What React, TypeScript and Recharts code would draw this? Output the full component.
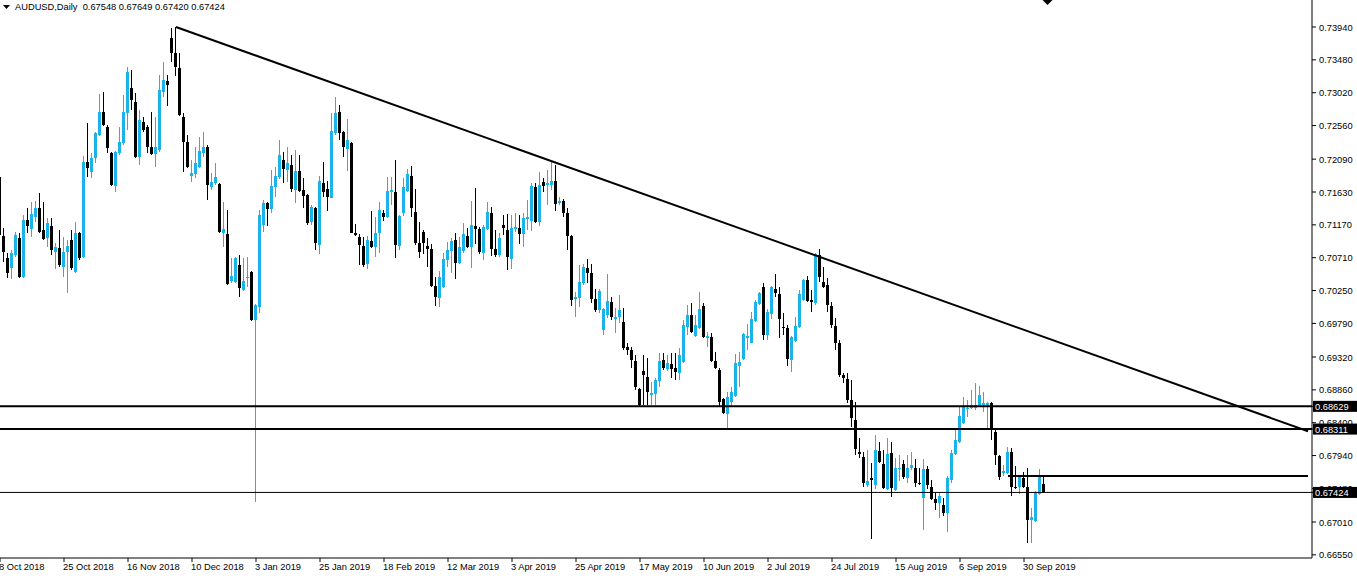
import React from "react";
import { Bar, ComposedChart, ReferenceDot, ReferenceLine, XAxis, YAxis } from "recharts";

// daily bars, first one is the partly hidden bar at the left edge
const opens = [
  0.7184, 0.7101, 0.7071, 0.7057, 0.7075, 0.7099, 0.7044, 0.7124, 0.7111, 0.7128,
  0.7141, 0.7110, 0.7099, 0.7115, 0.7079, 0.7085, 0.7058, 0.7079, 0.7096, 0.7051,
  0.7106, 0.7072, 0.7205, 0.7191, 0.7211, 0.7243, 0.7275, 0.7254, 0.7218, 0.7171,
  0.7218, 0.7232, 0.7274, 0.7309, 0.7289, 0.7212, 0.7261, 0.7254, 0.7226, 0.7216,
  0.7222, 0.7303, 0.7319, 0.7379, 0.7358, 0.7337, 0.7268, 0.7233, 0.7185, 0.7188,
  0.7198, 0.7218, 0.7226, 0.7170, 0.7176, 0.7174, 0.7106, 0.7104, 0.7038, 0.7037,
  0.7061, 0.7026, 0.7043, 0.7051, 0.6984, 0.7002, 0.7117, 0.7148, 0.7139, 0.7170,
  0.7184, 0.7208, 0.7194, 0.7201, 0.7166, 0.7193, 0.7166, 0.7159, 0.7121, 0.7141,
  0.7089, 0.7176, 0.7167, 0.7155, 0.7246, 0.7275, 0.7247, 0.7223, 0.7232, 0.7106,
  0.7100, 0.7087, 0.7062, 0.7094, 0.7086, 0.7106, 0.7134, 0.7128, 0.7163, 0.7163,
  0.7087, 0.7134, 0.7164, 0.7185, 0.7135, 0.7092, 0.7107, 0.7087, 0.7083, 0.7032,
  0.7015, 0.7030, 0.7068, 0.7080, 0.7096, 0.7064, 0.7080, 0.7101, 0.7086, 0.7115,
  0.7111, 0.7078, 0.7111, 0.7134, 0.7083, 0.7075, 0.7117, 0.7110, 0.7069, 0.7111,
  0.7113, 0.7104, 0.7125, 0.7122, 0.7170, 0.7121, 0.7177, 0.7173, 0.7173, 0.7178,
  0.7148, 0.7150, 0.7134, 0.7101, 0.7013, 0.7015, 0.7036, 0.7057, 0.7050, 0.7013,
  0.6998, 0.6970, 0.6991, 0.7009, 0.6985, 0.6988, 0.6981, 0.6946, 0.6942, 0.6926,
  0.6887, 0.6912, 0.6904, 0.6879, 0.6880, 0.6899, 0.6928, 0.6915, 0.6922, 0.6917,
  0.6910, 0.6925, 0.6974, 0.6991, 0.6962, 0.6973, 0.7003, 0.6959, 0.6960, 0.6926,
  0.6914, 0.6873, 0.6852, 0.6869, 0.6877, 0.6920, 0.6929, 0.6959, 0.6952, 0.6982,
  0.7006, 0.7030, 0.6963, 0.6992, 0.7027, 0.7020, 0.6974, 0.6973, 0.6928, 0.6954,
  0.6974, 0.7012, 0.7040, 0.7012, 0.7008, 0.7075, 0.7037, 0.7033, 0.7003, 0.6975,
  0.6952, 0.6907, 0.6901, 0.6872, 0.6844, 0.6799, 0.6792, 0.6753, 0.6763, 0.6753,
  0.6801, 0.6782, 0.6747, 0.6798, 0.6746, 0.6775, 0.6782, 0.6763, 0.6777, 0.6777,
  0.6756, 0.6735, 0.6775, 0.6750, 0.6733, 0.6728, 0.6725, 0.6714, 0.6760, 0.6796,
  0.6813, 0.6840, 0.6859, 0.6861, 0.6861, 0.6864, 0.6865, 0.6864, 0.6868, 0.6827,
  0.6793, 0.6770, 0.6770, 0.6799, 0.6750, 0.6750, 0.6763, 0.6750, 0.6704, 0.6703,
  0.6740, 0.67548,
];

const highs = [
  0.7187, 0.7113, 0.7078, 0.7082, 0.7107, 0.7106, 0.7131, 0.7141, 0.7149, 0.7150,
  0.7162, 0.7149, 0.7127, 0.7127, 0.7092, 0.7110, 0.7100, 0.7096, 0.7110, 0.7121,
  0.7107, 0.7213, 0.7260, 0.7218, 0.7247, 0.7300, 0.7303, 0.7257, 0.7219, 0.7220,
  0.7254, 0.7299, 0.7338, 0.7334, 0.7302, 0.7278, 0.7268, 0.7257, 0.7275, 0.7268,
  0.7327, 0.7345, 0.7327, 0.7393, 0.7394, 0.7358, 0.7274, 0.7243, 0.7208, 0.7226,
  0.7240, 0.7247, 0.7229, 0.7190, 0.7204, 0.7176, 0.7149, 0.7138, 0.7071, 0.7072,
  0.7075, 0.7071, 0.7072, 0.7052, 0.7006, 0.7138, 0.7152, 0.7149, 0.7194, 0.7198,
  0.7236, 0.7219, 0.7226, 0.7215, 0.7222, 0.7215, 0.7183, 0.7160, 0.7145, 0.7142,
  0.7185, 0.7205, 0.7178, 0.7274, 0.7296, 0.7285, 0.7248, 0.7265, 0.7233, 0.7118,
  0.7104, 0.7100, 0.7101, 0.7136, 0.7128, 0.7149, 0.7138, 0.7184, 0.7184, 0.7208,
  0.7131, 0.7183, 0.7195, 0.7199, 0.7167, 0.7121, 0.7110, 0.7099, 0.7090, 0.7044,
  0.7052, 0.7078, 0.7093, 0.7099, 0.7106, 0.7100, 0.7120, 0.7113, 0.7150, 0.7169,
  0.7114, 0.7117, 0.7149, 0.7142, 0.7110, 0.7106, 0.7131, 0.7132, 0.7131, 0.7134,
  0.7131, 0.7134, 0.7152, 0.7176, 0.7176, 0.7191, 0.7183, 0.7194, 0.7205, 0.7201,
  0.7156, 0.7153, 0.7141, 0.7103, 0.7023, 0.7061, 0.7062, 0.7069, 0.7062, 0.7027,
  0.7027, 0.7001, 0.7048, 0.7016, 0.7000, 0.7019, 0.7000, 0.6952, 0.6946, 0.6935,
  0.6889, 0.6935, 0.6931, 0.6897, 0.6903, 0.6938, 0.6938, 0.6935, 0.6938, 0.6938,
  0.6945, 0.6984, 0.7005, 0.7008, 0.6991, 0.7023, 0.7008, 0.6967, 0.6966, 0.6939,
  0.6917, 0.6875, 0.6883, 0.6890, 0.6936, 0.6939, 0.6966, 0.6978, 0.6995, 0.7012,
  0.7023, 0.7036, 0.6999, 0.7031, 0.7048, 0.7030, 0.6994, 0.6977, 0.6961, 0.6988,
  0.7026, 0.7041, 0.7046, 0.7026, 0.7078, 0.7083, 0.7058, 0.7043, 0.7009, 0.6987,
  0.6956, 0.6910, 0.6910, 0.6900, 0.6869, 0.6819, 0.6799, 0.6802, 0.6784, 0.6823,
  0.6813, 0.6802, 0.6819, 0.6813, 0.6791, 0.6795, 0.6788, 0.6795, 0.6799, 0.6789,
  0.6777, 0.6789, 0.6780, 0.6760, 0.6742, 0.6742, 0.6735, 0.6766, 0.6802, 0.6830,
  0.6862, 0.6876, 0.6872, 0.6886, 0.6896, 0.6891, 0.6883, 0.6869, 0.6869, 0.6831,
  0.6795, 0.6781, 0.6806, 0.6805, 0.6780, 0.6767, 0.6771, 0.6777, 0.6721, 0.6744,
  0.6775, 0.67649,
];

const lows = [
  0.7096, 0.7065, 0.7043, 0.7041, 0.7072, 0.7043, 0.7043, 0.7106, 0.7100, 0.7121,
  0.7106, 0.7096, 0.7086, 0.7075, 0.7055, 0.7058, 0.7044, 0.7022, 0.7054, 0.7050,
  0.7068, 0.7071, 0.7184, 0.7183, 0.7204, 0.7242, 0.7255, 0.7218, 0.7171, 0.7163,
  0.7215, 0.7229, 0.7250, 0.7278, 0.7211, 0.7201, 0.7247, 0.7218, 0.7215, 0.7198,
  0.7219, 0.7296, 0.7283, 0.7345, 0.7325, 0.7270, 0.7191, 0.7197, 0.7177, 0.7183,
  0.7197, 0.7212, 0.7152, 0.7166, 0.7173, 0.7106, 0.7086, 0.7033, 0.7036, 0.7036,
  0.7016, 0.7024, 0.7030, 0.6982, 0.6729, 0.6994, 0.7107, 0.7115, 0.7134, 0.7156,
  0.7181, 0.7176, 0.7177, 0.7163, 0.7148, 0.7163, 0.7141, 0.7117, 0.7117, 0.7082,
  0.7076, 0.7156, 0.7136, 0.7154, 0.7243, 0.7236, 0.7212, 0.7193, 0.7105, 0.7102,
  0.7061, 0.7058, 0.7055, 0.7085, 0.7072, 0.7078, 0.7122, 0.7127, 0.7145, 0.7071,
  0.7082, 0.7129, 0.7163, 0.7128, 0.7089, 0.7071, 0.7076, 0.7058, 0.7030, 0.7003,
  0.7002, 0.7029, 0.7058, 0.7050, 0.7041, 0.7062, 0.7078, 0.7085, 0.7057, 0.7090,
  0.7076, 0.7068, 0.7110, 0.7073, 0.7072, 0.7072, 0.7103, 0.7054, 0.7055, 0.7107,
  0.7090, 0.7086, 0.7110, 0.7108, 0.7120, 0.7115, 0.7163, 0.7145, 0.7166, 0.7136,
  0.7145, 0.7128, 0.7082, 0.7003, 0.6988, 0.7002, 0.7033, 0.7036, 0.7008, 0.6995,
  0.6994, 0.6963, 0.6987, 0.6984, 0.6966, 0.6980, 0.6942, 0.6935, 0.6917, 0.6886,
  0.6863, 0.6865, 0.6865, 0.6865, 0.6865, 0.6890, 0.6914, 0.6912, 0.6903, 0.6900,
  0.6900, 0.6924, 0.6963, 0.6966, 0.6960, 0.6971, 0.6959, 0.6946, 0.6925, 0.6915,
  0.6862, 0.6852, 0.6833, 0.6862, 0.6876, 0.6890, 0.6928, 0.6942, 0.6951, 0.6981,
  0.7005, 0.6956, 0.6956, 0.6985, 0.7016, 0.6959, 0.6963, 0.6919, 0.6911, 0.6953,
  0.6973, 0.7010, 0.7009, 0.6995, 0.7005, 0.7037, 0.7029, 0.6995, 0.6973, 0.6942,
  0.6904, 0.6896, 0.6868, 0.6834, 0.6795, 0.6791, 0.6750, 0.6750, 0.6677, 0.6747,
  0.6784, 0.6747, 0.6746, 0.6736, 0.6744, 0.6758, 0.6761, 0.6756, 0.6774, 0.6750,
  0.6753, 0.6690, 0.6747, 0.6732, 0.6718, 0.6707, 0.6710, 0.6687, 0.6756, 0.6795,
  0.6812, 0.6838, 0.6848, 0.6859, 0.6858, 0.6862, 0.6855, 0.6833, 0.6816, 0.6781,
  0.6760, 0.6766, 0.6768, 0.6738, 0.6747, 0.6740, 0.6749, 0.6672, 0.6672, 0.6701,
  0.6739, 0.67420,
];

const closes = [
  0.7103, 0.7079, 0.7050, 0.7078, 0.7103, 0.7044, 0.7124, 0.7115, 0.7132, 0.7141,
  0.7107, 0.7097, 0.7120, 0.7082, 0.7086, 0.7061, 0.7079, 0.7087, 0.7057, 0.7106,
  0.7071, 0.7205, 0.7197, 0.7211, 0.7246, 0.7275, 0.7257, 0.7225, 0.7173, 0.7219,
  0.7233, 0.7275, 0.7331, 0.7292, 0.7212, 0.7264, 0.7250, 0.7226, 0.7216, 0.7226,
  0.7306, 0.7320, 0.7313, 0.7358, 0.7338, 0.7271, 0.7233, 0.7198, 0.7190, 0.7204,
  0.7220, 0.7226, 0.7173, 0.7177, 0.7184, 0.7107, 0.7111, 0.7034, 0.7046, 0.7071,
  0.7029, 0.7038, 0.7044, 0.6984, 0.7005, 0.7131, 0.7148, 0.7139, 0.7171, 0.7185,
  0.7215, 0.7195, 0.7204, 0.7167, 0.7193, 0.7164, 0.7157, 0.7120, 0.7142, 0.7092,
  0.7178, 0.7163, 0.7156, 0.7248, 0.7274, 0.7246, 0.7226, 0.7236, 0.7106, 0.7103,
  0.7089, 0.7061, 0.7096, 0.7086, 0.7106, 0.7138, 0.7128, 0.7164, 0.7166, 0.7089,
  0.7129, 0.7170, 0.7188, 0.7141, 0.7092, 0.7079, 0.7092, 0.7083, 0.7032, 0.7016,
  0.7044, 0.7069, 0.7082, 0.7094, 0.7064, 0.7086, 0.7104, 0.7086, 0.7117, 0.7111,
  0.7079, 0.7114, 0.7135, 0.7083, 0.7075, 0.7099, 0.7113, 0.7072, 0.7113, 0.7114,
  0.7104, 0.7127, 0.7128, 0.7171, 0.7121, 0.7173, 0.7171, 0.7176, 0.7178, 0.7146,
  0.7150, 0.7134, 0.7101, 0.7012, 0.7016, 0.7037, 0.7058, 0.7050, 0.7013, 0.6998,
  0.7024, 0.6999, 0.7010, 0.6988, 0.6988, 0.6998, 0.6945, 0.6942, 0.6928, 0.6890,
  0.6865, 0.6907, 0.6883, 0.6881, 0.6900, 0.6926, 0.6917, 0.6924, 0.6915, 0.6911,
  0.6935, 0.6977, 0.6991, 0.6967, 0.6977, 0.6999, 0.6960, 0.6961, 0.6926, 0.6917,
  0.6869, 0.6854, 0.6876, 0.6883, 0.6924, 0.6925, 0.6964, 0.6962, 0.6985, 0.7009,
  0.7022, 0.6963, 0.6995, 0.7030, 0.7022, 0.6985, 0.6973, 0.6929, 0.6960, 0.6975,
  0.7020, 0.7040, 0.7010, 0.7009, 0.7076, 0.7044, 0.7030, 0.7005, 0.6977, 0.6952,
  0.6907, 0.6903, 0.6872, 0.6847, 0.6803, 0.6796, 0.6756, 0.6758, 0.6760, 0.6802,
  0.6785, 0.6749, 0.6796, 0.6749, 0.6777, 0.6777, 0.6764, 0.6777, 0.6781, 0.6756,
  0.6754, 0.6775, 0.6753, 0.6733, 0.6728, 0.6738, 0.6714, 0.6763, 0.6798, 0.6816,
  0.6850, 0.6864, 0.6861, 0.6865, 0.6865, 0.6879, 0.6868, 0.6868, 0.6830, 0.6795,
  0.6764, 0.6772, 0.6799, 0.6750, 0.6749, 0.6766, 0.6750, 0.6704, 0.6708, 0.6742,
  0.6766, 0.67424,
];

// one label every 16 bars, from the first bar
const dateLabels = [
  "8 Oct 2018", "25 Oct 2018", "16 Nov 2018", "10 Dec 2018", "3 Jan 2019",
  "25 Jan 2019", "18 Feb 2019", "12 Mar 2019", "3 Apr 2019", "25 Apr 2019",
  "17 May 2019", "10 Jun 2019", "2 Jul 2019", "24 Jul 2019", "15 Aug 2019",
  "6 Sep 2019", "30 Sep 2019",
];

const priceTicks = [
  0.7394, 0.7348, 0.7302, 0.7256, 0.7209, 0.7163, 0.7117, 0.7071, 0.7025,
  0.6979, 0.6932, 0.6886, 0.684, 0.6794, 0.6748, 0.6701, 0.6655,
];
const boxedPrices = [0.68629, 0.68311, 0.67424];

const supportHigh = 0.68629;
const supportLow = 0.68311;
const lastSwing = 0.67654;
const trendFrom = { bar: 44, price: 0.7394 };
const trendTo = { bar: 327, price: 0.6828 };

const BLUE = "#1cb3e8";
const FONT = "'Liberation Sans', Arial, sans-serif";
const SLOTS = 328; // bars plus the empty shift space on the right

const data = Array.from({ length: SLOTS }, (_, slot) =>
  slot < opens.length
    ? { slot, o: opens[slot], h: highs[slot], l: lows[slot], c: closes[slot], range: [lows[slot], highs[slot]] }
    : { slot }
);
const labelSlots = dateLabels.map((_, i) => i * 16);
const last = opens.length - 1;

function Candle(props: any) {
  const { x, y, width, height, payload } = props;
  if (!payload || payload.o == null || !(height > 0)) return null;
  const { o, h, l, c } = payload;
  const k = height / (h - l);
  const cx = Math.round(x + width / 2);
  const top = Math.round(y);
  const bottom = Math.round(y + height);
  const yo = Math.round(y + (h - o) * k);
  const yc = Math.round(y + (h - c) * k);
  const color = c >= o ? BLUE : "#000";
  return (
    <g>
      <rect x={cx - 1} y={top} width={1} height={Math.max(1, bottom - top)} fill={color} />
      <rect x={cx - 2} y={Math.min(yo, yc)} width={3} height={Math.max(1, Math.abs(yo - yc))} fill={color} />
    </g>
  );
}

function PriceTick(props: any) {
  const { x, y, payload } = props;
  const v = payload.value;
  if (boxedPrices.includes(v)) {
    return (
      <g>
        <rect x={x - 5} y={y - 5.5} width={46} height={11} fill="#000" />
        <text x={x - 3} y={y} dy={3.5} fill="#fff" fontSize={9.3} fontFamily={FONT}>
          {v.toFixed(5)}
        </text>
      </g>
    );
  }
  return (
    <text x={x + 1} y={y} dy={3.5} fill="#000" fontSize={9.3} fontFamily={FONT}>
      {v.toFixed(5)}
    </text>
  );
}

function DateTick(props: any) {
  const { x, y, payload } = props;
  return (
    <text x={x - 1} y={y} dy={8} fill="#000" fontSize={9.3} fontFamily={FONT}>
      {dateLabels[payload.value / 16]}
    </text>
  );
}

function ShiftMark(props: any) {
  const { cx, cy } = props;
  return <polygon points={`${cx - 5.5},${cy} ${cx + 4.5},${cy} ${cx - 0.5},${cy + 5}`} fill="#000" />;
}

export default function App() {
  return (
    <div style={{ position: "absolute", left: 0, top: 0, width: 1357, height: 576, background: "#fff", overflow: "hidden" }}>
      <div style={{ position: "absolute", left: -2, top: 0 }}>
        <ComposedChart width={1359} height={576} data={data} margin={{ top: 0, right: 0, bottom: 0, left: 0 }} barCategoryGap={0}>
          <XAxis
            dataKey="slot"
            type="category"
            ticks={labelSlots}
            interval={0}
            height={18}
            tickSize={4}
            tickMargin={0}
            padding={{ left: 0, right: 2 }}
            axisLine={{ stroke: "#000" }}
            tickLine={{ stroke: "#000" }}
            tick={<DateTick />}
          />
          <YAxis
            orientation="right"
            type="number"
            domain={[0.66506, 0.74318]}
            allowDataOverflow
            ticks={[...priceTicks, ...boxedPrices]}
            interval={0}
            width={45}
            tickSize={4}
            tickMargin={2}
            axisLine={{ stroke: "#000" }}
            tickLine={{ stroke: "#000" }}
            tick={<PriceTick />}
          />
          <Bar dataKey="range" shape={<Candle />} isAnimationActive={false} />
          <ReferenceLine y={supportHigh} stroke="#000" strokeWidth={2} />
          <ReferenceLine y={supportLow} stroke="#000" strokeWidth={2} />
          <ReferenceLine y={closes[last]} stroke="#000" strokeWidth={1} />
          <ReferenceLine segment={[{ x: 252, y: lastSwing }, { x: trendTo.bar, y: lastSwing }]} stroke="#000" strokeWidth={2} />
          <ReferenceLine
            segment={[{ x: trendFrom.bar, y: trendFrom.price }, { x: trendTo.bar, y: trendTo.price }]}
            stroke="#000"
            strokeWidth={2}
          />
          <ReferenceDot x={262} y={0.74318} r={5} shape={<ShiftMark />} />
        </ComposedChart>
      </div>
      <div style={{ position: "absolute", left: 0, top: 0, height: 14, display: "flex", alignItems: "center", fontFamily: FONT, fontSize: 9.3, color: "#000", whiteSpace: "pre" }}>
        <svg width={15} height={14}>
          <polygon points="3,5 10,5 6.5,9" fill="#000" />
        </svg>
        <span>
          {"AUDUSD,Daily  " +
            [opens[last], highs[last], lows[last], closes[last]].map((v) => v.toFixed(5)).join(" ")}
        </span>
      </div>
    </div>
  );
}
